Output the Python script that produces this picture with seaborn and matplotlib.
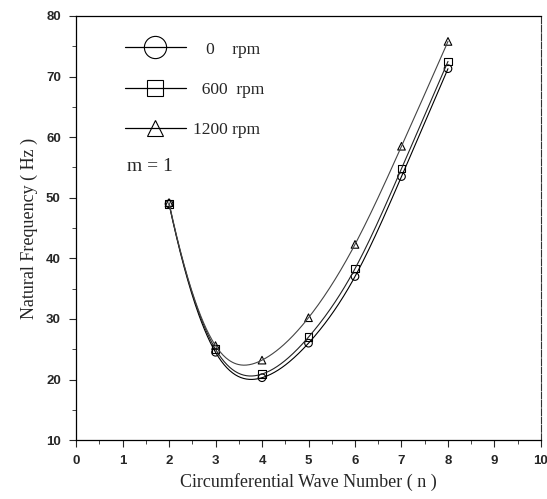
import numpy as np
import pandas as pd
import matplotlib
matplotlib.use("Agg")
import matplotlib.pyplot as plt
from matplotlib.lines import Line2D
import seaborn as sns

# ---- data ----
wave_numbers = [2, 3, 4, 5, 6, 7, 8]
freq_0rpm = [49.0, 24.5, 20.3, 26.0, 37.0, 53.5, 71.3]
freq_600rpm = [49.0, 25.0, 20.9, 27.0, 38.3, 54.8, 72.5]
freq_1200rpm = [49.2, 25.6, 23.2, 30.2, 42.3, 58.5, 75.8]
series_names = ["0 rpm", "600 rpm", "1200 rpm"]
legend_labels = ["   0    rpm", "  600  rpm", "1200 rpm"]
x_ticks = [0, 1, 2, 3, 4, 5, 6, 7, 8, 9, 10]
y_ticks = [10, 20, 30, 40, 50, 60, 70, 80]

sns.set_style("ticks")
plt.rcParams["font.family"] = ["Liberation Serif", "DejaVu Serif"]


def smooth_spline(x, y, num=300):
    """Cubic spline with parabolic run-out end conditions."""
    x = np.asarray(x, float)
    y = np.asarray(y, float)
    n = len(x)
    h = np.diff(x)
    A = np.zeros((n, n))
    b = np.zeros(n)
    A[0, 0], A[0, 1] = 1.0, -1.0
    A[-1, -1], A[-1, -2] = 1.0, -1.0
    for i in range(1, n - 1):
        A[i, i - 1] = h[i - 1]
        A[i, i] = 2 * (h[i - 1] + h[i])
        A[i, i + 1] = h[i]
        b[i] = 3 * ((y[i + 1] - y[i]) / h[i] - (y[i] - y[i - 1]) / h[i - 1])
    c = np.linalg.solve(A, b)
    xs = np.linspace(x[0], x[-1], num)
    ys = np.empty_like(xs)
    for k, xv in enumerate(xs):
        i = min(np.searchsorted(x, xv, side="right") - 1, n - 2)
        dx = xv - x[i]
        bi = (y[i + 1] - y[i]) / h[i] - h[i] * (2 * c[i] + c[i + 1]) / 3
        di = (c[i + 1] - c[i]) / (3 * h[i])
        ys[k] = y[i] + bi * dx + c[i] * dx ** 2 + di * dx ** 3
    return xs, ys


series = [freq_0rpm, freq_600rpm, freq_1200rpm]
markers = ["o", "s", "^"]

pts = pd.DataFrame({
    "n": wave_numbers * 3,
    "freq": freq_0rpm + freq_600rpm + freq_1200rpm,
    "speed": sum([[s] * len(wave_numbers) for s in series_names], []),
})
curves = []
for name, vals in zip(series_names, series):
    xs, ys = smooth_spline(wave_numbers, vals)
    curves.append(pd.DataFrame({"n": xs, "freq": ys, "speed": name}))
curves = pd.concat(curves, ignore_index=True)

fig = plt.figure(figsize=(5.47, 4.99), dpi=100)
ax = fig.add_axes([0.139, 0.118, 0.850, 0.850])

sns.lineplot(data=curves, x="n", y="freq", hue="speed", hue_order=series_names,
             palette=["black", "#222222", "#444444"], linewidth=0.8,
             legend=False, ax=ax, sort=False)
for name, mk in zip(series_names, markers):
    sub = pts[pts["speed"] == name]
    sns.scatterplot(data=sub, x="n", y="freq", marker=mk, s=30,
                    facecolor="none", edgecolor="black", linewidth=0.8,
                    legend=False, ax=ax)

ax.set_xlim(0, 10)
ax.set_ylim(10, 80)
ax.set_xticks(x_ticks)
ax.set_yticks(y_ticks)
ax.set_xticks(np.arange(0, 10.01, 0.5), minor=True)
ax.set_yticks(np.arange(10, 80.01, 5), minor=True)
ax.tick_params(axis="both", which="major", direction="out", length=5, width=0.8,
               labelsize=9.5, pad=6)
ax.tick_params(axis="both", which="minor", direction="out", length=3, width=0.6)
for lbl in ax.get_xticklabels() + ax.get_yticklabels():
    lbl.set_family(["Liberation Sans", "DejaVu Sans"])
    lbl.set_fontweight("bold")

for side in ["left", "bottom", "top"]:
    ax.spines[side].set_visible(True)
    ax.spines[side].set_linewidth(0.9)
    ax.spines[side].set_color("black")
ax.spines["right"].set_visible(True)
ax.spines["right"].set_linewidth(0.8)
ax.spines["right"].set_color("#333333")
ax.spines["right"].set_linestyle((0, (6, 1.5)))

ax.set_xlabel("Circumferential Wave Number ( n )", fontsize=13, labelpad=4)
ax.set_ylabel("Natural Frequency ( Hz )", fontsize=13, labelpad=6)

handles = [
    Line2D([], [], color="black", lw=0.9, marker="o", markersize=16,
           markerfacecolor="none", markeredgewidth=0.8),
    Line2D([], [], color="black", lw=0.9, marker="s", markersize=11,
           markerfacecolor="none", markeredgewidth=0.8),
    Line2D([], [], color="black", lw=0.9, marker="^", markersize=12,
           markerfacecolor="none", markeredgewidth=0.8),
]
ax.legend(handles, legend_labels, loc="upper left", bbox_to_anchor=(0.105, 0.94),
          frameon=False, fontsize=12.5, handlelength=3.5, handletextpad=0.45,
          labelspacing=1.4, borderpad=0, borderaxespad=0)

ax.text(0.11, 0.645, "m = 1", transform=ax.transAxes, fontsize=14,
        ha="left", va="center")

fig.savefig("out.png", dpi=100)
